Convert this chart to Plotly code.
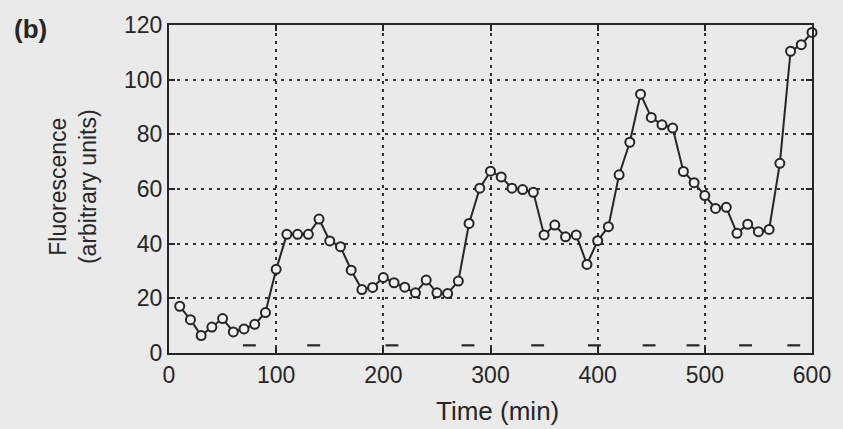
import plotly.graph_objects as go

# Time points (min)
time_min = list(range(10, 601, 10))
# Fluorescence (arbitrary units)
fluorescence = [17.1, 12.2, 6.4, 9.5, 12.6, 7.7, 8.8, 10.5, 14.8, 30.6,
                43.4, 43.4, 43.4, 49.0, 41.0, 38.9, 30.3, 23.2, 24.0, 27.6,
                25.7, 24.1, 22.0, 26.7, 22.0, 21.8, 26.3, 47.4, 60.3, 66.5,
                64.4, 60.3, 59.8, 58.8, 43.2, 46.8, 42.5, 43.2, 32.4, 41.1,
                46.2, 65.2, 77.1, 94.7, 86.2, 83.5, 82.3, 66.4, 62.3, 57.6,
                52.9, 53.3, 43.8, 47.1, 44.4, 45.2, 69.4, 110.4, 112.8, 117.3]
# Division event marks (min)
division_times = [75, 135, 208, 279, 344, 397, 448, 489, 538, 583]
division_level = 2.8
division_halfwidth = 6

x_ticks = [0, 100, 200, 300, 400, 500, 600]
y_ticks = [0, 20, 40, 60, 80, 100, 120]

ink = "#262626"
paper = "#eaeaea"
font_family = "Liberation Sans, Arial, sans-serif"

dx, dy = [], []
for t in division_times:
    dx += [t - division_halfwidth, t + division_halfwidth, None]
    dy += [division_level, division_level, None]

fig = go.Figure()
fig.add_trace(go.Scatter(x=dx, y=dy, mode="lines",
                         line=dict(color=ink, width=2.2), hoverinfo="skip",
                         showlegend=False, cliponaxis=False))
fig.add_trace(go.Scatter(x=time_min, y=fluorescence, mode="lines+markers",
                         line=dict(color=ink, width=2),
                         marker=dict(symbol="circle", size=9, color="#f2f2f2",
                                     line=dict(color=ink, width=2)),
                         showlegend=False, cliponaxis=False))

axis_common = dict(showline=True, linecolor=ink, linewidth=2.2, mirror="ticks",
                   ticks="inside", ticklen=6, tickwidth=2, tickcolor=ink,
                   showgrid=True, gridcolor="#333333", gridwidth=2,
                   griddash="2.5px,5.5px",
                   zeroline=False,
                   tickfont=dict(family=font_family, size=23, color=ink))

fig.update_xaxes(range=[0, 600], tickvals=x_ticks,
                 ticktext=[str(v) for v in x_ticks], **axis_common)
fig.update_yaxes(range=[0, 120], tickvals=y_ticks,
                 ticktext=[str(v) for v in y_ticks], **axis_common)

PL, PW, PB, PH = 169, 649, 352.7, 327.7


def px(x):
    return (x - PL) / PW


def py(y):
    return (PB - y) / PH


fig.update_layout(
    width=843, height=429,
    margin=dict(l=169, r=25, t=25, b=76),
    paper_bgcolor=paper, plot_bgcolor=paper,
    font=dict(family=font_family, color=ink),
    annotations=[
        dict(text="<b>(b)</b>", x=px(29), y=py(29), xref="paper", yref="paper",
             xanchor="center", yanchor="middle",
             showarrow=False, font=dict(size=26, color=ink)),
        dict(text="Time (min)", x=px(501), y=py(411), xref="paper", yref="paper",
             xanchor="center", yanchor="middle",
             showarrow=False, font=dict(size=26, color=ink)),
        dict(text="Fluorescence<br>(arbitrary units)", x=px(72), y=py(186),
             xref="paper", yref="paper", textangle=-90, showarrow=False,
             xanchor="center", yanchor="middle",
             font=dict(size=23, color=ink)),
    ],
)

fig.write_html("out.html")
